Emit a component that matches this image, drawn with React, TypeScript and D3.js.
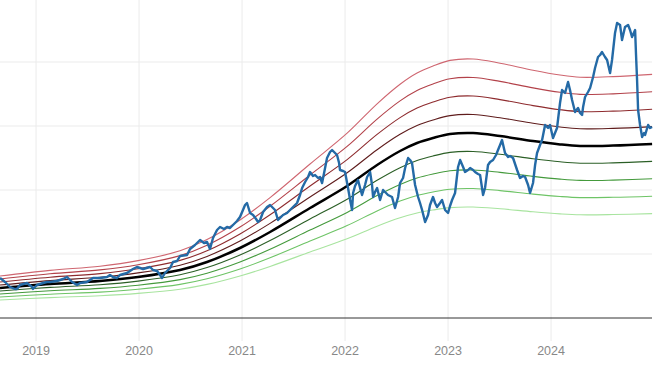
import React from "react";
import * as d3 from "d3";

// Price series (decimal year, value)
const priceYears = [
  2018.650, 2018.699, 2018.747, 2018.796, 2018.815, 2018.844, 2018.912, 2018.961, 2018.970, 2019.009,
  2019.068, 2019.106, 2019.136, 2019.203, 2019.262, 2019.301, 2019.350, 2019.398, 2019.427, 2019.495,
  2019.553, 2019.621, 2019.689, 2019.718, 2019.747, 2019.786, 2019.815, 2019.883, 2019.941, 2019.980,
  2020.039, 2020.107, 2020.136, 2020.175, 2020.204, 2020.223, 2020.252, 2020.301, 2020.330, 2020.369,
  2020.398, 2020.466, 2020.495, 2020.543, 2020.592, 2020.631, 2020.660, 2020.689, 2020.718, 2020.757,
  2020.786, 2020.825, 2020.854, 2020.883, 2020.912, 2020.951, 2020.980, 2021.009, 2021.029, 2021.048,
  2021.078, 2021.107, 2021.136, 2021.155, 2021.175, 2021.204, 2021.243, 2021.272, 2021.301, 2021.320,
  2021.349, 2021.369, 2021.398, 2021.437, 2021.466, 2021.495, 2021.534, 2021.563, 2021.583, 2021.612,
  2021.641, 2021.660, 2021.689, 2021.709, 2021.738, 2021.757, 2021.777, 2021.806, 2021.825, 2021.854,
  2021.874, 2021.903, 2021.922, 2021.942, 2021.951, 2021.981, 2022.000, 2022.029, 2022.049, 2022.068,
  2022.078, 2022.097, 2022.126, 2022.146, 2022.165, 2022.194, 2022.214, 2022.243, 2022.262, 2022.272,
  2022.291, 2022.311, 2022.340, 2022.369, 2022.398, 2022.417, 2022.456, 2022.485, 2022.515, 2022.534,
  2022.563, 2022.583, 2022.612, 2022.631, 2022.650, 2022.680, 2022.709, 2022.728, 2022.748, 2022.777,
  2022.806, 2022.825, 2022.854, 2022.874, 2022.893, 2022.922, 2022.942, 2022.971, 2023.000, 2023.019,
  2023.039, 2023.068, 2023.097, 2023.117, 2023.146, 2023.165, 2023.194, 2023.214, 2023.243, 2023.262,
  2023.291, 2023.311, 2023.340, 2023.359, 2023.388, 2023.408, 2023.437, 2023.466, 2023.485, 2023.505,
  2023.524, 2023.553, 2023.583, 2023.602, 2023.631, 2023.670, 2023.699, 2023.728, 2023.748, 2023.777,
  2023.796, 2023.825, 2023.845, 2023.864, 2023.893, 2023.913, 2023.942, 2023.971, 2023.990, 2024.019,
  2024.058, 2024.087, 2024.107, 2024.136, 2024.165, 2024.184, 2024.204, 2024.233, 2024.262, 2024.282,
  2024.301, 2024.311, 2024.330, 2024.359, 2024.379, 2024.408, 2024.427, 2024.456, 2024.476, 2024.495,
  2024.524, 2024.544, 2024.573, 2024.592, 2024.621, 2024.641, 2024.670, 2024.689, 2024.718, 2024.748,
  2024.767, 2024.786, 2024.816, 2024.825, 2024.835, 2024.845, 2024.864, 2024.884, 2024.903, 2024.913,
  2024.942, 2024.961, 2024.981,
];
const priceValues = [
  10, 9, 7.75, 7.25, 7.25, 8.25, 8.75, 7.75, 7.25, 8.25,
  8.75, 9, 9, 9.25, 9.75, 10.25, 9, 8.25, 8.75, 9,
  10, 10, 10.25, 10.75, 10.25, 10, 10.75, 11.25, 12.25, 12.75,
  12.25, 12.75, 12, 11.75, 10.75, 10, 11.25, 12.5, 14, 14.25,
  15.5, 15.75, 17.25, 18.25, 19.5, 18.75, 19, 17.25, 20, 22,
  22.75, 22.25, 22.75, 22.5, 23.25, 24.25, 25.25, 27, 28.25, 28.75,
  26.25, 25.75, 24.75, 24, 24.5, 26.5, 27.75, 28.25, 27.5, 27,
  24.5, 25, 25.75, 26.25, 27, 27.75, 28.75, 30.75, 32.5, 34,
  35.25, 36.5, 35.5, 35.75, 35, 35.25, 33.75, 37.5, 40, 41.5,
  42, 41.25, 40.75, 38.75, 37, 36.75, 36.5, 32.5, 29.5, 27,
  31.25, 33, 34.5, 32.5, 30.75, 33.25, 35.25, 36.5, 33.25, 30.25,
  31.5, 32.5, 29.5, 32, 31.25, 30.75, 30.25, 27.5, 30.25, 33.75,
  35, 37.5, 40, 39.5, 38.75, 33.25, 30.25, 28.75, 27, 24,
  25.75, 28.25, 30.25, 28.75, 27.75, 28.75, 29.5, 27, 26.25, 28,
  29.5, 31.25, 37.75, 39.5, 37.75, 36.5, 37, 37.5, 37, 36.5,
  36, 35.75, 30.75, 32.5, 38.25, 39, 39.5, 40.75, 42, 43.25,
  44.5, 41.25, 40.25, 40.5, 40, 37, 35, 35.5, 35.25, 33.25,
  31.25, 33.75, 38.25, 41.25, 43.25, 44.5, 48.25, 47.5, 48.25, 45,
  47.5, 53.75, 57, 56.25, 59, 57, 54.5, 51.5, 52.5, 51.25,
  50.75, 52.75, 55.25, 56.5, 57.5, 60.25, 62.5, 65.25, 65.75, 66.5,
  65.25, 64.5, 61.25, 64.5, 71.25, 73.75, 73.25, 69.5, 72.75, 73.25,
  72, 70.25, 72, 65.75, 59.5, 52, 48.25, 45.25, 46.25, 45.75,
  48.25, 47.5, 47.75,
];

// Trend (center band) (decimal year, value)
const trendYears = [
  2018.650, 2019.136, 2019.621, 2019.990, 2020.398, 2020.660, 2020.980, 2021.272, 2021.660,
  2022.020, 2022.311, 2022.534, 2022.699, 2022.854, 2023.019, 2023.243, 2023.505, 2023.825, 2024.087,
  2024.282, 2024.602, 2024.981,
];
const trendValues = [
  7.5, 8.5, 9.25, 10.25, 12, 14, 17.5, 21.5, 27.5,
  33, 38.25, 41.75, 43.75, 45, 46, 46.25, 45.5, 44.25, 43.4,
  43, 43.1, 43.5,
];

// Band multipliers relative to the trend, top to bottom
const bandFactors = [1.4, 1.3, 1.2, 1.1, 1.0, 0.9, 0.8, 0.7, 0.6];
const bandColors = [
  "#cf6670", "#b3424a", "#8e2b2e", "#5f1c1c", "#000000",
  "#2b5f26", "#449a3c", "#6ec466", "#a8e49f",
];

const yearTicks = [2019, 2020, 2021, 2022, 2023, 2024];
const gridValues = [16, 32, 48, 64];

const W = 667;
const H = 381;
const plotLeft = 0;
const plotRight = 652;
const axisY = 318;

export default function App() {
  const x = d3.scaleLinear().domain([2018.65, 2024.98]).range([plotLeft, plotRight]);
  const y = d3.scaleLinear().domain([0, 80]).range([axisY, -2]);

  const trend = trendYears.map((t, i) => ({ t, v: trendValues[i] }));
  const price = priceYears.map((t, i) => ({ t, v: priceValues[i] }));

  const priceLine = d3
    .line<{ t: number; v: number }>()
    .x((d) => x(d.t))
    .y((d) => y(d.v))
    .curve(d3.curveLinear);

  return (
    <svg
      width={W}
      height={H}
      style={{ position: "absolute", left: 0, top: 0, background: "#fff" }}
      fontFamily="'Liberation Sans', Arial, sans-serif"
    >
      {gridValues.map((g) => (
        <line key={"h" + g} x1={plotLeft} x2={plotRight} y1={y(g)} y2={y(g)} stroke="#ebebeb" strokeWidth={1} />
      ))}
      {yearTicks.map((yr) => (
        <line key={"v" + yr} x1={x(yr)} x2={x(yr)} y1={0} y2={341} stroke="#ebebeb" strokeWidth={1} />
      ))}
      {bandFactors.map((f, i) => {
        const gen = d3
          .line<{ t: number; v: number }>()
          .x((d) => x(d.t))
          .y((d) => y(d.v * f))
          .curve(d3.curveCatmullRom.alpha(0.5));
        return (
          <path
            key={"b" + i}
            d={gen(trend) || ""}
            fill="none"
            stroke={bandColors[i]}
            strokeWidth={f === 1 ? 2.5 : 1.1}
          />
        );
      })}
      <path d={priceLine(price) || ""} fill="none" stroke="#246aa6" strokeWidth={2.4} strokeLinejoin="round" />
      <line x1={plotLeft} x2={plotRight} y1={axisY} y2={axisY} stroke="#333" strokeWidth={1} />
      {yearTicks.map((yr) => (
        <text key={"t" + yr} x={x(yr)} y={355} textAnchor="middle" fontSize={12.5} fill="#888">
          {yr}
        </text>
      ))}
    </svg>
  );
}
